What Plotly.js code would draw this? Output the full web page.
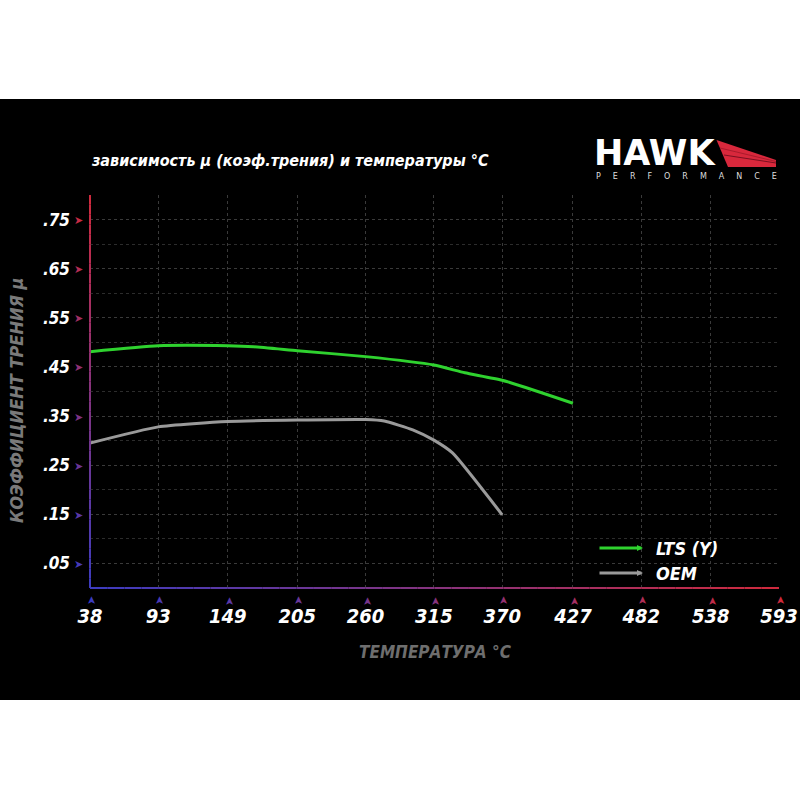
<!DOCTYPE html>
<html><head><meta charset="utf-8">
<script src="https://cdn.plot.ly/plotly-3.0.1.min.js"></script>
<style>
html,body{margin:0;padding:0;background:#fff;width:800px;height:800px;overflow:hidden}
#chart{position:absolute;left:0;top:99px;width:800px;height:601px;background:#000}
</style>
</head><body><div id="chart"></div>
<script>
// ---- data ----
const temperatureTicks = [38, 93, 149, 205, 260, 315, 370, 427, 482, 538, 593];
const frictionTicks = [0.05, 0.15, 0.25, 0.35, 0.45, 0.55, 0.65, 0.75];
const frictionTickText = ['.05', '.15', '.25', '.35', '.45', '.55', '.65', '.75'];
const ltsTemp = [38, 93, 149, 170, 205, 260, 315, 340, 370, 427];
const ltsMu   = [0.481, 0.493, 0.493, 0.491, 0.483, 0.471, 0.454, 0.438, 0.423, 0.376];
const oemTemp = [38, 93, 149, 205, 260, 275, 298, 315, 330, 370];
const oemMu   = [0.295, 0.328, 0.339, 0.342, 0.343, 0.340, 0.322, 0.301, 0.275, 0.149];
const seriesNames = ['LTS (Y)', 'OEM'];
const titleText = 'зависимость μ (коэф.трения) и температуры °C';
const xTitleText = 'ТЕМПЕРАТУРА °C';
const yTitleText = 'КОЭФФИЦИЕНТ ТРЕНИЯ μ';

// ---- style ----
const FONT = "'Liberation Sans Narrow', 'DejaVu Sans Condensed', 'Liberation Sans', sans-serif";
const GREEN = '#2fd22f', GRAY = '#9a9a9a';
const ML = 90, MR = 21, MT = 96, MB = 112, W = 800, H = 601, TOPOFF = 99;
const PW = W - ML - MR, PH = H - MT - MB;
const px = X => (X - ML) / PW;                 // page px -> paper x
const py = Y => (H - MB + TOPOFF - Y) / PH;     // page px -> paper y

function lerpColor(a, b, t) {
  const pa = [1,3,5].map(i => parseInt(a.substr(i,2),16));
  const pb = [1,3,5].map(i => parseInt(b.substr(i,2),16));
  return 'rgb(' + pa.map((v,i) => Math.round(v + (pb[i]-v)*t)).join(',') + ')';
}
const BLUE = '#3c3cc0', RED = '#d02a3c';

const shapes = [];
const N = 40;
for (let i = 0; i < N; i++) {
  const t0 = i / N, t1 = (i + 1) / N, c = lerpColor(BLUE, RED, (i + 0.5) / N);
  shapes.push({type:'line', xref:'paper', yref:'paper', x0:0, x1:0, y0:t0, y1:t1, line:{color:c, width:2}});
  shapes.push({type:'line', xref:'paper', yref:'paper', x0:t0, x1:t1, y0:0, y1:0, line:{color:c, width:2}});
}
// Hawk wing
shapes.push({type:'path', xref:'paper', yref:'paper',
  path:`M ${px(716.5)},${py(140)} L ${px(776)},${py(160)} L ${px(776)},${py(167)} L ${px(728)},${py(167)} Z`,
  fillcolor:'#d8283c', line:{width:0}});
shapes.push({type:'line', xref:'paper', yref:'paper', x0:px(724), y0:py(155), x1:px(776), y1:py(163), line:{color:'#7a1020', width:1}});
shapes.push({type:'line', xref:'paper', yref:'paper', x0:px(720), y0:py(148), x1:px(776), y1:py(161.5), line:{color:'#a01828', width:0.8}});

const annotations = [];
// y tick arrows
const yr = [0, 0.8];
frictionTicks.forEach(v => {
  annotations.push({xref:'paper', yref:'y', x:px(78), y:v, text:'➤', showarrow:false,
    font:{size:11, color:lerpColor(BLUE, RED, v / yr[1])}, xanchor:'center', yanchor:'middle', borderpad:0});
});
// x tick arrows
temperatureTicks.forEach(v => {
  annotations.push({xref:'x', yref:'paper', x:v, y:py(601), text:'➤', textangle:-90, showarrow:false,
    font:{size:11, color:lerpColor(BLUE, RED, (v - 38) / (593 - 38))}, xanchor:'center', yanchor:'middle', borderpad:0});
});
// axis titles
annotations.push({xref:'paper', yref:'paper', x:px(435), y:py(652), text:xTitleText, showarrow:false,
  font:{family:FONT, size:17, color:'#6e6e6e', weight:700, style:'italic'}, xanchor:'center', yanchor:'middle'});
annotations.push({xref:'paper', yref:'paper', x:px(16), y:py(400), text:yTitleText, showarrow:false, textangle:-90,
  font:{family:FONT, size:18, color:'#7a7a7a', weight:700, style:'italic'}, xanchor:'center', yanchor:'middle'});
// legend
[[GREEN, 548, seriesNames[0]], [GRAY, 573, seriesNames[1]]].forEach(([c, Y, name]) => {
  annotations.push({xref:'paper', yref:'paper', x:px(643), y:py(Y), ax:-45, ay:0, text:'', showarrow:true,
    arrowhead:2, arrowsize:0.4, arrowwidth:3, arrowcolor:c});
  annotations.push({xref:'paper', yref:'paper', x:px(654), y:py(Y), text:name, showarrow:false,
    font:{family:FONT, size:18, color:'#ffffff', weight:700, style:'italic'}, xanchor:'left', yanchor:'middle'});
});
// logo
annotations.push({xref:'paper', yref:'paper', x:px(655), y:py(153), text:'HAWK', showarrow:false,
  font:{family:"'DejaVu Sans', sans-serif", size:35, color:'#ffffff', weight:700}, xanchor:'center', yanchor:'middle', borderpad:0});
annotations.push({xref:'paper', yref:'paper', x:px(686), y:py(177),
  text:'PERFORMANCE'.split('').join('\u2003\u2002'), showarrow:false,
  font:{family:"'DejaVu Sans', sans-serif", size:8, color:'#dddddd'}, xanchor:'center', yanchor:'middle', borderpad:0});

const traces = [
  {x: ltsTemp, y: ltsMu, name: seriesNames[0], type:'scatter', mode:'lines',
   line:{color:GREEN, width:3, shape:'spline', smoothing:0.5}, showlegend:false},
  {x: oemTemp, y: oemMu, name: seriesNames[1], type:'scatter', mode:'lines',
   line:{color:GRAY, width:3, shape:'spline', smoothing:0.5}, showlegend:false}
];

const layout = {
  width: W, height: H,
  paper_bgcolor:'#000', plot_bgcolor:'#000',
  margin:{l:ML, r:MR, t:MT, b:MB},
  title:{text:titleText, xref:'container', yref:'container', x:92/800, xanchor:'left', y:1 - 61/601, yanchor:'middle',
    font:{family:FONT, size:16, color:'#ffffff', weight:700, style:'italic'}},
  xaxis:{range:[38, 593], tickvals:temperatureTicks, ticktext:temperatureTicks.map(String), ticks:'',
    showline:false, zeroline:false, showgrid:true, gridcolor:'#3a3a3a', griddash:'dot', gridwidth:1,
    ticklabelstandoff:14, tickfont:{family:FONT, size:20, color:'#ffffff', weight:700, style:'italic'}, fixedrange:true},
  yaxis:{range:yr, tickvals:frictionTicks, ticktext:frictionTickText, ticks:'',
    showline:false, zeroline:false, showgrid:true, gridcolor:'#3a3a3a', griddash:'dot', gridwidth:1,
    minor:{dtick:0.05, tick0:0, showgrid:true, gridcolor:'#2c2c2c', griddash:'dot', gridwidth:1, ticks:''},
    ticklabelstandoff:19, tickfont:{family:FONT, size:17, color:'#ffffff', weight:700, style:'italic'}, fixedrange:true},
  shapes, annotations
};
Plotly.newPlot('chart', traces, layout, {displayModeBar:false, staticPlot:true});
</script>
</body></html>
